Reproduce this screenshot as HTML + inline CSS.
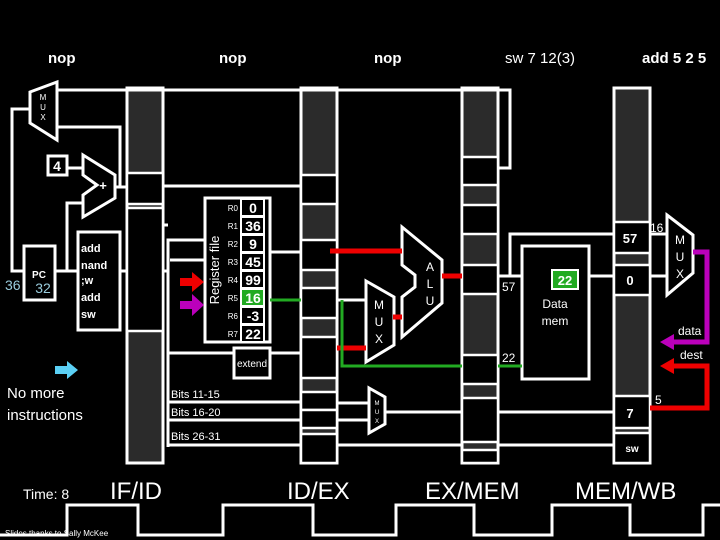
<!DOCTYPE html>
<html><head><meta charset="utf-8"><style>
html,body{margin:0;padding:0;background:#000;width:720px;height:540px;overflow:hidden}
svg{display:block}
text{font-family:"Liberation Sans",sans-serif;fill:#fff}
</style></head><body>
<svg width="720" height="540" viewBox="0 0 720 540" xmlns="http://www.w3.org/2000/svg">
<rect width="720" height="540" fill="#000"/>
<g font-size="15" font-weight="bold">
<text x="48" y="63">nop</text>
<text x="219" y="63">nop</text>
<text x="374" y="63">nop</text>
<text x="505" y="63" font-weight="normal">sw 7 12(3)</text>
<text x="642" y="63">add  5 2 5</text>
</g>
<g stroke="#fff" stroke-width="3" fill="none">
<rect x="127" y="88" width="36" height="375" fill="#2b2b2b"/>
<rect x="301" y="88" width="36" height="375" fill="#2b2b2b"/>
<rect x="462" y="88" width="36" height="375" fill="#2b2b2b"/>
<rect x="614" y="88" width="36" height="375" fill="#2b2b2b"/>
</g>
<g stroke="#fff" stroke-width="2.5" fill="#000">
<rect x="127" y="173" width="36" height="31"/>
<rect x="127" y="208" width="36" height="123"/>
<rect x="301" y="175" width="36" height="29"/>
<rect x="301" y="240" width="36" height="30"/>
<rect x="301" y="288" width="36" height="30"/>
<rect x="301" y="337" width="36" height="41"/>
<rect x="301" y="392" width="36" height="18"/>
<rect x="301" y="410" width="36" height="18"/>
<rect x="301" y="434" width="36" height="29"/>
<rect x="462" y="157" width="36" height="28"/>
<rect x="462" y="205" width="36" height="29"/>
<rect x="462" y="265" width="36" height="29"/>
<rect x="462" y="355" width="36" height="29"/>
<rect x="462" y="398" width="36" height="44"/>
<rect x="462" y="450" width="36" height="13"/>
<rect x="614" y="222" width="36" height="31"/>
<rect x="614" y="265" width="36" height="30"/>
<rect x="614" y="396" width="36" height="32"/>
<rect x="614" y="433" width="36" height="30"/>
</g>
<g stroke="#fff" stroke-width="3" fill="none">
<polygon points="30,92 57,82 57,140 30,123" fill="#000"/>
<polyline points="57,90 510,90 510,168 498,168"/>
<polyline points="57,127 120,127 120,187 115,187"/>
<polyline points="30,109 12,109 12,271 24,271"/>
<rect x="24" y="246" width="31" height="54" fill="#000"/>
<polyline points="55,271 78,271"/>
<polyline points="67,271 67,203 83,203"/>
<rect x="48" y="156" width="19" height="19" fill="#000"/>
<line x1="67" y1="168" x2="83" y2="168"/>
<polygon points="83,155 115,175 115,198 83,217 83,195 97,185 83,175" fill="#000"/>
<line x1="115" y1="187" x2="127" y2="187"/>
<rect x="78" y="232" width="42" height="98" fill="#000"/>
<line x1="120" y1="271" x2="127" y2="271"/>
<line x1="163" y1="186" x2="301" y2="186"/>
<line x1="163" y1="271" x2="168" y2="271"/>
<polyline points="168,447 168,240 205,240"/>
<line x1="170" y1="260" x2="205" y2="260"/>
<line x1="270" y1="252" x2="301" y2="252"/>
<line x1="168" y1="353" x2="301" y2="353"/>
<line x1="168" y1="402" x2="301" y2="402"/>
<line x1="168" y1="420" x2="301" y2="420"/>
<line x1="168" y1="445" x2="301" y2="445"/>
<line x1="163" y1="225" x2="168" y2="225"/>
<rect x="205" y="198" width="65" height="144" fill="#000"/>
<rect x="234" y="348" width="36" height="30" fill="#000"/>
<polygon points="402,227 442,260 442,303 402,337 402,297 415,287 415,275 402,265" fill="#000"/>
<polygon points="366,281 394,297 394,345 366,362" fill="#000"/>
<line x1="337" y1="300" x2="366" y2="300"/>
<polygon points="369,388 385,397 385,424 369,433" fill="#000"/>
<line x1="337" y1="403" x2="369" y2="403"/>
<line x1="337" y1="420" x2="369" y2="420"/>
<line x1="385" y1="412" x2="462" y2="412"/>
<line x1="337" y1="445" x2="462" y2="445"/>
<rect x="522" y="246" width="67" height="133" fill="#000"/>
<polyline points="510,276 510,234 614,234"/>
<line x1="498" y1="276" x2="522" y2="276"/>
<line x1="589" y1="276" x2="614" y2="276"/>
<line x1="498" y1="412" x2="614" y2="412"/>
<line x1="498" y1="445" x2="614" y2="445"/>
<polygon points="667,215 693,235 693,273 667,295" fill="#000"/>
<line x1="650" y1="234" x2="667" y2="234"/>
<line x1="650" y1="276" x2="667" y2="276"/>
</g>
<g fill="none" stroke-width="5">
<line x1="330" y1="251" x2="402" y2="251" stroke="#e00"/>
<line x1="442" y1="276" x2="462" y2="276" stroke="#e00"/>
<line x1="393" y1="317" x2="402" y2="317" stroke="#e00"/>
<line x1="337" y1="348" x2="366" y2="348" stroke="#e00"/>
<polyline points="693,252 707,252 707,342 672,342" stroke="#b0b"/>
<polyline points="650,408 707,408 707,366 672,366" stroke="#e00"/>
</g>
<g fill="none" stroke="#2a2" stroke-width="3">
<line x1="270" y1="300" x2="301" y2="300"/>
<polyline points="342,300 342,366 462,366"/>
<line x1="498" y1="366" x2="522" y2="366"/>
</g>
<polygon points="660,342 674,334 674,350" fill="#b0b"/>
<polygon points="660,366 674,358 674,374" fill="#e00"/>
<polygon points="180,278 192,278 192,272 204,282 192,292 192,286 180,286" fill="#e00"/>
<polygon points="180,301 192,301 192,294 204,305 192,316 192,309 180,309" fill="#b0b"/>
<polygon points="55,366 67,366 67,361 78,370 67,379 67,374 55,374" fill="#5bd0f5"/>
<g stroke="#fff" stroke-width="2" fill="#000">
<rect x="241" y="199" width="23" height="17"/>
<rect x="241" y="217" width="23" height="17"/>
<rect x="241" y="235" width="23" height="17"/>
<rect x="241" y="253" width="23" height="17"/>
<rect x="241" y="271" width="23" height="17"/>
<rect x="241" y="289" width="23" height="17" fill="#2a2"/>
<rect x="241" y="307" width="23" height="17"/>
<rect x="241" y="325" width="23" height="17"/>
<rect x="552" y="270" width="26" height="19" fill="#2a2"/>
</g>
<g font-size="8" text-anchor="end">
<text x="238" y="211">R0</text><text x="238" y="229">R1</text><text x="238" y="247">R2</text><text x="238" y="265">R3</text>
<text x="238" y="283">R4</text><text x="238" y="301">R5</text><text x="238" y="319">R6</text><text x="238" y="337">R7</text>
</g>
<g font-size="14" font-weight="bold" text-anchor="middle">
<text x="253" y="213">0</text><text x="253" y="231">36</text><text x="253" y="249">9</text><text x="253" y="267">45</text>
<text x="253" y="285">99</text><text x="253" y="303">16</text><text x="253" y="321">-3</text><text x="253" y="339">22</text>
<text x="565" y="285" font-size="13">22</text>
<text x="630" y="243" font-size="13">57</text>
<text x="630" y="285" font-size="13">0</text>
<text x="630" y="418" font-size="13">7</text>
</g>
<text x="219" y="270" font-size="13" text-anchor="middle" transform="rotate(-90 219 270)">Register file</text>
<text x="252" y="367" font-size="10" text-anchor="middle">extend</text>
<g font-size="8" text-anchor="middle"><text x="43" y="100">M</text><text x="43" y="110">U</text><text x="43" y="120">X</text></g>
<text x="103" y="190" font-size="13" font-weight="bold" text-anchor="middle">+</text>
<text x="57" y="171" font-size="14" font-weight="bold" text-anchor="middle">4</text>
<text x="39" y="278" font-size="10" font-weight="bold" text-anchor="middle">PC</text>
<text x="43" y="293" font-size="14" style="fill:#9cd" text-anchor="middle">32</text>
<text x="5" y="290" font-size="14" style="fill:#9cd">36</text>
<g font-size="11" font-weight="bold"><text x="81" y="252">add</text><text x="81" y="269">nand</text><text x="81" y="284">;w</text><text x="81" y="301">add</text><text x="81" y="318">sw</text></g>
<text x="7" y="398" font-size="15">No more</text>
<text x="7" y="420" font-size="15">instructions</text>
<g font-size="11"><text x="171" y="398">Bits 11-15</text><text x="171" y="416">Bits 16-20</text><text x="171" y="440">Bits 26-31</text></g>
<g font-size="12" text-anchor="middle"><text x="430" y="271">A</text><text x="430" y="288">L</text><text x="430" y="305">U</text>
<text x="379" y="309">M</text><text x="379" y="326">U</text><text x="379" y="343">X</text>
<text x="680" y="244">M</text><text x="680" y="261">U</text><text x="680" y="278">X</text></g>
<g font-size="6" text-anchor="middle"><text x="377" y="405">M</text><text x="377" y="414">U</text><text x="377" y="423">X</text></g>
<text x="555" y="308" font-size="12" text-anchor="middle">Data</text>
<text x="555" y="325" font-size="12" text-anchor="middle">mem</text>
<g font-size="12"><text x="502" y="291">57</text><text x="502" y="362">22</text><text x="650" y="232">16</text>
<text x="678" y="335">data</text><text x="680" y="359">dest</text><text x="655" y="404">5</text></g>
<text x="632" y="452" font-size="10" font-weight="bold" text-anchor="middle">sw</text>
<text x="23" y="499" font-size="14">Time: 8</text>
<g font-size="24"><text x="110" y="499">IF/ID</text><text x="287" y="499">ID/EX</text><text x="425" y="499">EX/MEM</text><text x="575" y="499">MEM/WB</text></g>
<polyline points="0,535 67,535 67,505 138,505 138,535 223,535 223,505 313,505 313,535 396,535 396,505 474,505 474,535 552,535 552,505 630,505 630,535 703,535 703,505 720,505" fill="none" stroke="#fff" stroke-width="3"/>
<text x="5" y="536" font-size="8">Slides thanks to Sally McKee</text>
</svg>
</body></html>
